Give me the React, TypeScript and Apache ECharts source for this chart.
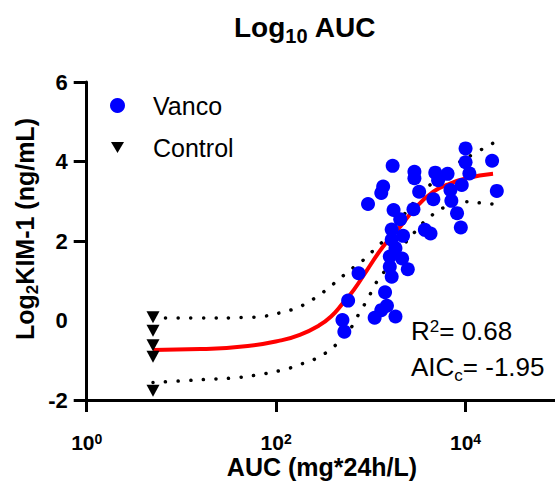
import React, { useEffect, useRef } from "react";
import * as echarts from "echarts";

// log10(AUC) and Log2 KIM-1 values
const vancoX = [4.00, 4.28, 4.00, 3.23, 4.04, 3.46, 3.46, 3.68, 3.81, 3.71, 3.13, 3.11, 3.96, 3.51, 3.84, 4.33, 2.97, 3.66, 3.85, 3.45, 3.24, 3.31, 3.91, 3.95, 3.22, 3.57, 3.63, 3.34, 3.22, 3.26, 3.20, 3.33, 3.20, 3.39, 2.87, 3.22, 3.15, 2.76, 3.17, 3.11, 3.04, 3.26, 2.70, 2.72];
const vancoY = [4.33, 4.02, 3.98, 3.89, 3.70, 3.74, 3.58, 3.72, 3.69, 3.53, 3.37, 3.21, 3.41, 3.24, 3.28, 3.26, 2.93, 3.05, 3.01, 2.80, 2.78, 2.55, 2.70, 2.34, 2.29, 2.28, 2.19, 2.13, 2.03, 1.82, 1.61, 1.56, 1.35, 1.29, 1.19, 1.10, 0.71, 0.50, 0.37, 0.26, 0.07, 0.10, 0.01, -0.28];

const controlX = [0.70, 0.70, 0.70, 0.70, 0.70];
const controlY = [0.08, -0.26, -0.62, -0.91, -1.77];

const fitX = [0.70, 1.20, 1.70, 2.05, 2.25, 2.45, 2.58, 2.71, 2.82, 2.96, 3.13, 3.31, 3.48, 3.66, 3.80, 4.01, 4.29];
const fitY = [-0.74, -0.72, -0.64, -0.50, -0.36, -0.13, 0.10, 0.45, 0.77, 1.27, 1.86, 2.36, 2.86, 3.24, 3.41, 3.58, 3.69];

const upperX = [0.70, 1.20, 1.70, 1.88, 2.02, 2.15, 2.27, 2.38, 2.48, 2.59, 2.69, 2.78, 2.89, 2.98, 3.08, 3.17, 3.38, 3.59, 3.75, 3.90, 4.10, 4.29];
const upperY = [0.06, 0.06, 0.08, 0.11, 0.18, 0.26, 0.37, 0.52, 0.68, 0.89, 1.09, 1.27, 1.46, 1.66, 1.88, 2.10, 2.75, 3.33, 3.65, 3.93, 4.21, 4.46];

const lowerX = [0.70, 1.00, 1.28, 1.57, 1.85, 2.11, 2.23, 2.36, 2.47, 2.58, 2.67, 2.78, 2.84, 2.91, 2.98, 3.04, 3.13, 3.36, 3.45, 3.54, 3.64, 3.75, 4.01, 4.15, 4.29];
const lowerY = [-1.56, -1.52, -1.48, -1.44, -1.35, -1.22, -1.12, -1.02, -0.89, -0.72, -0.51, -0.22, 0.03, 0.31, 0.60, 0.89, 1.19, 1.94, 2.19, 2.43, 2.64, 2.82, 2.99, 2.96, 2.93];

const xTicks = [0, 2, 4];
const yTicks = [-2, 0, 2, 4, 6];
const yTickMarks = [-2, 2, 4, 6];

const FONT = '"Liberation Sans", Arial, Helvetica, sans-serif';

const zip = (xs: number[], ys: number[]) => xs.map((x, i) => [x, ys[i]]);

export default function App() {
  const ref = useRef<HTMLDivElement>(null);
  useEffect(() => {
    if (!ref.current) return;
    const chart = echarts.init(ref.current, undefined, { renderer: "svg" });
    const bandStyle = { color: "#000", width: 3.5, type: [0.1, 12.5], cap: "round" as const };
    chart.setOption({
      animation: false,
      backgroundColor: "#fff",
      grid: { left: 86.7, top: 82, bottom: 85, width: 568.3, containLabel: false, outerBoundsMode: "none" },
      xAxis: {
        type: "value",
        min: xTicks[0],
        max: 6,
        interval: 2,
        axisLine: { show: true, onZero: false, lineStyle: { color: "#000", width: 3 } },
        axisTick: { show: true, length: 12, lineStyle: { color: "#000", width: 3 } },
        splitLine: { show: false },
        axisLabel: {
          margin: 32,
          color: "#000",
          formatter: (v: number) => (xTicks.includes(v) ? `{b|10}{s|${v}}` : ""),
          rich: {
            b: { fontSize: 21, fontWeight: "bold", fontFamily: FONT, color: "#000" },
            s: { fontSize: 14, fontWeight: "bold", fontFamily: FONT, color: "#000", verticalAlign: "top" },
          },
        },
      },
      yAxis: {
        type: "value",
        min: yTicks[0],
        max: yTicks[yTicks.length - 1],
        interval: 2,
        axisLine: { show: true, onZero: false, lineStyle: { color: "#000", width: 3 } },
        axisTick: { show: true, length: 13, customValues: yTickMarks, lineStyle: { color: "#000", width: 3 } },
        splitLine: { show: false },
        axisLabel: { margin: 19, fontSize: 22, fontWeight: "bold", fontFamily: FONT, color: "#000" },
      },
      legend: [
        {
          data: ["Vanco"], left: 110, top: 93, padding: 0, itemWidth: 15, itemHeight: 15, selectedMode: false,
          textStyle: { fontSize: 25, color: "#000", fontFamily: FONT, padding: [0, 0, 0, 23] },
        },
        {
          data: ["Control"], left: 111, top: 135, padding: 0, itemWidth: 13, itemHeight: 12, selectedMode: false,
          textStyle: { fontSize: 25, color: "#000", fontFamily: FONT, padding: [0, 0, 0, 24] },
        },
      ],
      graphic: [
        {
          type: "text", x: 305, y: 27,
          style: {
            text: "{b|Log}{s|10}{b| AUC}", align: "center", verticalAlign: "middle",
            fontSize: 28, fontWeight: "bold", fontFamily: FONT, fill: "#000",
            rich: {
              b: { fontSize: 28, fontWeight: "bold", fontFamily: FONT, lineHeight: 38, verticalAlign: "middle" },
              s: { fontSize: 20, fontWeight: "bold", fontFamily: FONT, verticalAlign: "bottom" },
            },
          },
        },
        {
          type: "text", x: 25, y: 229, rotation: Math.PI / 2,
          style: {
            text: "{b|Log}{s|2}{b|KIM-1 (ng/mL)}", align: "center", verticalAlign: "middle",
            fontSize: 25, fontWeight: "bold", fontFamily: FONT, fill: "#000",
            rich: {
              b: { fontSize: 25, fontWeight: "bold", fontFamily: FONT, lineHeight: 32, verticalAlign: "middle" },
              s: { fontSize: 17, fontWeight: "bold", fontFamily: FONT, verticalAlign: "bottom" },
            },
          },
        },
        {
          type: "text", x: 322, y: 467,
          style: {
            text: "AUC (mg*24h/L)", align: "center", verticalAlign: "middle",
            fontSize: 25, fontWeight: "bold", fontFamily: FONT, fill: "#000",
          },
        },
        {
          type: "text", x: 411, y: 331,
          style: {
            text: "R{p|2}= 0.68", align: "left", verticalAlign: "middle",
            fontSize: 26, fontFamily: FONT, fill: "#000",
            rich: { p: { fontSize: 17, fontFamily: FONT, verticalAlign: "top" } },
          },
        },
        {
          type: "text", x: 411, y: 367,
          style: {
            text: "{b|AIC}{c|c}{b|= -1.95}", align: "left", verticalAlign: "middle",
            fontSize: 26, fontFamily: FONT, fill: "#000",
            rich: {
              b: { fontSize: 26, fontFamily: FONT, lineHeight: 34, verticalAlign: "middle" },
              c: { fontSize: 17, fontFamily: FONT, verticalAlign: "bottom" },
            },
          },
        },
      ],
      series: [
        {
          name: "upper", type: "line", data: zip(upperX, upperY), smooth: true, showSymbol: false, symbol: "none",
          lineStyle: bandStyle, z: 2, silent: true,
        },
        {
          name: "lower", type: "line", data: zip(lowerX, lowerY), smooth: true, showSymbol: false, symbol: "none",
          lineStyle: bandStyle, z: 2, silent: true,
        },
        {
          name: "fit", type: "line", data: zip(fitX, fitY), smooth: true, showSymbol: false, symbol: "none",
          lineStyle: { color: "#ff0000", width: 4 }, z: 3, silent: true,
        },
        {
          name: "Vanco", type: "scatter", data: zip(vancoX, vancoY), symbol: "circle", symbolSize: 14,
          itemStyle: { color: "#0000ff", opacity: 1 }, z: 5,
        },
        {
          name: "Control", type: "scatter", data: zip(controlX, controlY), symbol: "path://M0,0L14,0L7,12Z",
          symbolSize: [13, 12], itemStyle: { color: "#000", opacity: 1 }, z: 5,
        },
      ],
    });
    return () => chart.dispose();
  }, []);
  return <div ref={ref} style={{ position: "fixed", left: 0, top: 0, width: 555, height: 485, background: "#fff" }} />;
}
